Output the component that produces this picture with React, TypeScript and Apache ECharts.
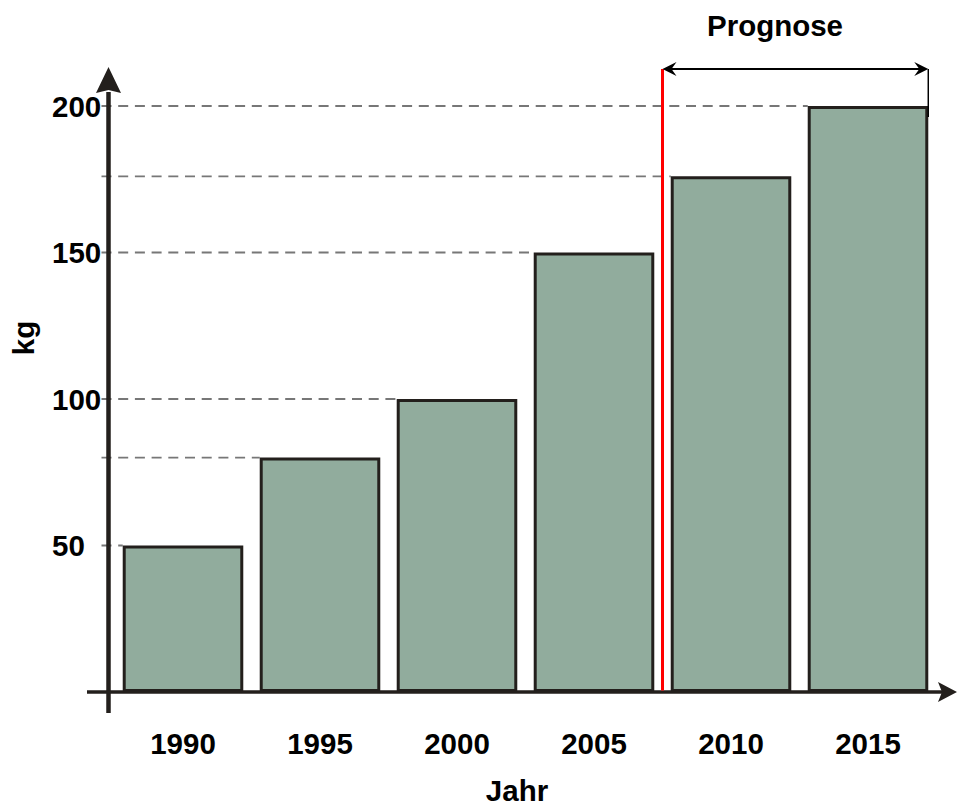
import { useEffect, useRef } from "react";
import * as echarts from "echarts";

// Annual amounts in kg, 2010 and 2015 being forecast values
const years = ["1990", "1995", "2000", "2005", "2010", "2015"];
const weightKg = [50, 80, 100, 150, 176, 200];
const axisMax = 200;
const tickStep = 50;
const forecastStartIndex = 4; // first forecast year (2010)

const FONT = '"Liberation Sans", Arial, Helvetica, sans-serif';
const FONT_SIZE = 29.5;
const BAR_RATIO = 0.88;
const DARK = "#231f1c";

export default function App() {
  const ref = useRef<HTMLDivElement>(null);

  useEffect(() => {
    if (!ref.current) return;
    const chart = echarts.init(ref.current, null, { renderer: "svg" });

    const labelStyle = {
      fontSize: FONT_SIZE,
      fontWeight: "bold" as const,
      fontFamily: FONT,
      color: "#000",
    };

    const textStyle = (text: string) => ({
      text,
      fontSize: FONT_SIZE,
      fontWeight: "bold",
      fontFamily: FONT,
      fill: "#000",
      align: "center",
      verticalAlign: "middle",
      lineHeight: 24,
    });

    chart.setOption({
      animation: false,
      backgroundColor: "#fff",
      grid: { left: 114.5, right: 20.5, top: 106, bottom: 113 },
      xAxis: {
        type: "category",
        data: years,
        axisLine: { show: false },
        axisTick: { show: false },
        axisLabel: { ...labelStyle, margin: 36 },
      },
      yAxis: {
        type: "value",
        min: 0,
        max: axisMax,
        interval: tickStep,
        axisLine: { show: false },
        axisTick: { show: false },
        splitLine: { show: false },
        axisLabel: {
          ...labelStyle,
          align: "left",
          margin: 62.5,
          padding: [6, 0, 0, 0],
          formatter: (v: number) => (v === 0 ? "" : String(v)),
        },
      },
      graphic: [
        { type: "text", x: 775, y: 25, style: textStyle("Prognose") },
        {
          type: "text",
          x: 23,
          y: 338,
          rotation: Math.PI / 2,
          style: textStyle("kg"),
        },
        { type: "text", x: 517, y: 790, style: textStyle("Jahr") },
      ],
      series: [
        {
          type: "bar",
          data: weightKg,
          barWidth: `${BAR_RATIO * 100}%`,
          z: 2,
          itemStyle: {
            color: "#91ac9d",
            borderColor: DARK,
            borderWidth: 3,
          },
        },
        {
          // dashed leader from the value axis to each bar's top-left corner
          type: "custom",
          z: 1,
          silent: true,
          data: weightKg.map((v, i) => [i, v]),
          renderItem: (params: any, api: any) => {
            const cs = params.coordSys;
            const p = api.coord([api.value(0), api.value(1)]);
            const band = api.size([1, 0])[0];
            const barLeft = p[0] - (band * BAR_RATIO) / 2;
            return {
              type: "line",
              shape: { x1: cs.x - 13, y1: p[1], x2: barLeft, y2: p[1] },
              style: { stroke: "#777", lineWidth: 1.8, lineDash: [10, 6.7] },
            };
          },
        },
        {
          // arrowed axes and the forecast bracket
          type: "custom",
          z: 3,
          silent: true,
          data: [[0, 0]],
          renderItem: (params: any, api: any) => {
            const cs = params.coordSys;
            const base = api.coord([0, 0])[1];
            const top = api.coord([0, axisMax])[1];
            const ax = cs.x - 6;
            const W = api.getWidth();
            const band = api.size([1, 0])[0];
            const xPrev = api.coord([forecastStartIndex - 1, 0])[0];
            const xNext = api.coord([forecastStartIndex, 0])[0];
            const splitX = (xPrev + xNext) / 2;
            const lastCenter = api.coord([years.length - 1, 0])[0];
            const right = lastCenter + (band * BAR_RATIO) / 2;
            const by = top - 37;
            return {
              type: "group",
              children: [
                {
                  type: "line",
                  shape: { x1: ax, y1: base + 21, x2: ax, y2: top - 14 },
                  style: { stroke: DARK, lineWidth: 4.5 },
                },
                {
                  type: "polygon",
                  shape: {
                    points: [
                      [ax, top - 39],
                      [ax + 12.5, top - 13],
                      [ax, top - 16],
                      [ax - 12.5, top - 13],
                    ],
                  },
                  style: { fill: DARK },
                },
                {
                  type: "line",
                  shape: { x1: cs.x - 27.5, y1: base, x2: W - 15, y2: base },
                  style: { stroke: DARK, lineWidth: 3.5 },
                },
                {
                  type: "polygon",
                  shape: {
                    points: [
                      [W, base],
                      [W - 19, base - 10],
                      [W - 15, base],
                      [W - 19, base + 10],
                    ],
                  },
                  style: { fill: DARK },
                },
                {
                  type: "line",
                  shape: { x1: splitX, y1: base - 1.5, x2: splitX, y2: by },
                  style: { stroke: "#ff0000", lineWidth: 3 },
                },
                {
                  type: "line",
                  shape: { x1: splitX + 4, y1: by, x2: right - 4, y2: by },
                  style: { stroke: "#000", lineWidth: 2 },
                },
                {
                  type: "polygon",
                  shape: {
                    points: [
                      [splitX, by],
                      [splitX + 14, by - 7],
                      [splitX + 9, by],
                      [splitX + 14, by + 7],
                    ],
                  },
                  style: { fill: "#000" },
                },
                {
                  type: "polygon",
                  shape: {
                    points: [
                      [right, by],
                      [right - 14, by - 7],
                      [right - 9, by],
                      [right - 14, by + 7],
                    ],
                  },
                  style: { fill: "#000" },
                },
                {
                  type: "line",
                  shape: { x1: right, y1: by, x2: right, y2: top + 11 },
                  style: { stroke: "#000", lineWidth: 1.5 },
                },
              ],
            };
          },
        },
      ],
    });

    return () => chart.dispose();
  }, []);

  return (
    <div
      ref={ref}
      style={{
        position: "fixed",
        left: 0,
        top: 0,
        width: 957,
        height: 805,
        background: "#fff",
      }}
    />
  );
}
